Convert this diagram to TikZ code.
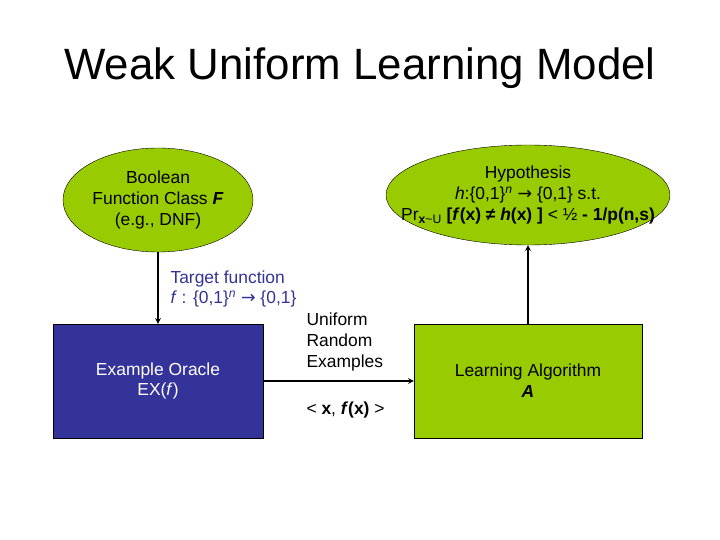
\documentclass[tikz,border=0pt]{standalone}
\usepackage{fontspec}
\setmainfont{Liberation Sans}
\newfontfamily\arrowfont{DejaVu Sans}
\usetikzlibrary{shapes.geometric}
\definecolor{limegreen}{HTML}{99CC00}
\definecolor{oracleblue}{HTML}{333399}
\newcommand{\maps}{{\arrowfont →}}
\tikzset{
    oval/.style={draw, ellipse, fill=limegreen, inner sep=0pt},
    box/.style={draw, rectangle, align=center, minimum width=#1, minimum height=114bp},
    link/.style={->, line width=1.5bp}
}
\begin{document}
\begin{tikzpicture}[x=1bp, y=-1bp, >=stealth, font=\fontsize{17.5}{21}\selectfont]
    \useasboundingbox (0,0) rectangle (720,540);

    % Title
    \node (title) at (360,68) {\fontsize{44}{50}\selectfont Weak Uniform Learning Model};

    % Ovals
    \node[oval, minimum width=190bp, minimum height=104bp] (class) at (158,200) {};
    \node[align=center] (classtext) at (class.center)
        {Boolean\\Function Class \textbf{\textit{F}}\\(e.g., DNF)};
    \node[oval, minimum width=284bp, minimum height=100bp] (hyp) at (528,195) {};
    \node[align=center] (hyptext) at (hyp.center)
        {Hypothesis\\
         \textit{h}:\{0,1\}\textsuperscript{\textit{n}} \maps{} \{0,1\} s.t.\\
         Pr\textsubscript{\textbf{x}\textasciitilde U} \textbf{[\textit{f}(x) ≠ \textit{h}(x) ]} < ½ \textbf{- 1/p(n,s)}};

    % Boxes
    \node[box=210bp, fill=oracleblue, text=white] (oracle) at (158,381)
        {Example Oracle\\EX(\textit{f})};
    \node[box=228bp, fill=limegreen] (learner) at (528,381)
        {Learning Algorithm\\\textbf{\textit{A}}};

    % Arrows
    \draw[link] (class) -- (oracle);
    \draw[link] (oracle) -- (learner);
    \draw[link] (learner) -- (hyp);

    % Labels
    \node[anchor=west, align=left, text=oracleblue] (target) at (167,289)
        {Target function\\\textit{f} : \{0,1\}\textsuperscript{\textit{n}} \maps{} \{0,1\}};
    \node[anchor=west, align=left] (examples) at (303,342)
        {Uniform\\Random\\Examples};
    \node[anchor=west] (pair) at (303,410) {< \textbf{x}, \textbf{\textit{f}(x)} >};
\end{tikzpicture}
\end{document}
